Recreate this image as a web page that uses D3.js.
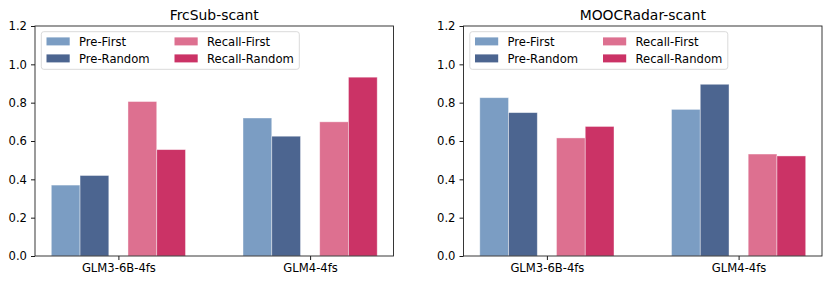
<!DOCTYPE html>
<html>
<head>
<meta charset="utf-8">
<script src="https://cdn.jsdelivr.net/npm/d3@7"></script>
<style>
  body { margin: 0; background: #fff; }
  svg { font-family: "DejaVu Sans", sans-serif; }
</style>
</head>
<body>
<div id="chart"></div>
<script>
const categories = ["GLM3-6B-4fs", "GLM4-4fs"];
const seriesNames = ["Pre-First", "Pre-Random", "Recall-First", "Recall-Random"];
const seriesColors = ["#7b9dc3", "#4c6590", "#dd7090", "#cb3366"];
const yTicks = [0.0, 0.2, 0.4, 0.6, 0.8, 1.0, 1.2];

// FrcSub-scant
const frcPreFirst = [0.37, 0.72];
const frcPreRandom = [0.42, 0.625];
const frcRecallFirst = [0.806, 0.70];
const frcRecallRandom = [0.555, 0.933];

// MOOCRadar-scant
const moocPreFirst = [0.826, 0.765];
const moocPreRandom = [0.748, 0.896];
const moocRecallFirst = [0.616, 0.532];
const moocRecallRandom = [0.676, 0.522];

const panels = [
  { title: "FrcSub-scant", left: 35, series: [frcPreFirst, frcPreRandom, frcRecallFirst, frcRecallRandom] },
  { title: "MOOCRadar-scant", left: 463.5, series: [moocPreFirst, moocPreRandom, moocRecallFirst, moocRecallRandom] }
];

const W = 830, H = 284;
const plotW = 358.5, plotTop = 26, plotBottom = 256;
const barW = 0.15;
const offsets = [-0.35, -0.2, 0.05, 0.2]; // left edge of each bar relative to group

const svg = d3.select("#chart").append("svg")
  .attr("width", W).attr("height", H);

panels.forEach(p => {
  const g = svg.append("g");
  const x = d3.scaleLinear().domain([-0.435, 1.435]).range([p.left, p.left + plotW]);
  const y = d3.scaleLinear().domain([0, 1.2]).range([plotBottom, plotTop]);

  // bars
  p.series.forEach((vals, si) => {
    g.selectAll(null)
      .data(vals)
      .enter().append("rect")
      .attr("x", (d, i) => x(i + offsets[si]))
      .attr("width", x(barW) - x(0))
      .attr("y", d => y(d))
      .attr("height", d => y(0) - y(d))
      .attr("fill", seriesColors[si])
      .attr("stroke", "#fff")
      .attr("stroke-opacity", 0.5)
      .attr("stroke-width", 0.8);
  });

  // axes
  const yAxis = d3.axisLeft(y).tickValues(yTicks).tickFormat(d3.format(".1f")).tickSize(4).tickPadding(4);
  const xAxis = d3.axisBottom(x).tickValues([0, 1]).tickFormat(i => categories[i]).tickSize(4).tickPadding(4);

  const ya = g.append("g").attr("transform", `translate(${p.left},0)`).call(yAxis);
  const xa = g.append("g").attr("transform", `translate(0,${plotBottom})`).call(xAxis);
  [ya, xa].forEach(a => {
    a.select(".domain").remove();
    a.selectAll("text").attr("font-size", "11.6px").attr("fill", "#000").attr("font-family", "DejaVu Sans");
    a.selectAll("line").attr("stroke", "#000").attr("stroke-width", 0.9);
  });

  // frame
  g.append("rect")
    .attr("x", p.left).attr("y", plotTop)
    .attr("width", plotW).attr("height", plotBottom - plotTop)
    .attr("fill", "none").attr("stroke", "#222").attr("stroke-width", 0.9);

  // title
  g.append("text")
    .attr("x", p.left + plotW / 2).attr("y", 19.5)
    .attr("text-anchor", "middle")
    .attr("font-size", "13.9px")
    .text(p.title);

  // legend
  const lx = p.left + 6.3, ly = 31.7;
  const leg = g.append("g");
  leg.append("rect")
    .attr("x", lx).attr("y", ly)
    .attr("width", 258).attr("height", 37.6)
    .attr("rx", 2.5)
    .attr("fill", "#fff").attr("fill-opacity", 0.8)
    .attr("stroke", "#d6d6d6").attr("stroke-width", 0.9);
  seriesNames.forEach((name, i) => {
    const col = Math.floor(i / 2), row = i % 2;
    const hx = lx + 5.2 + col * 128;
    const cy = ly + 9.7 + row * 17;
    leg.append("rect")
      .attr("x", hx).attr("y", cy - 4)
      .attr("width", 23.2).attr("height", 8)
      .attr("fill", seriesColors[i]);
    leg.append("text")
      .attr("x", hx + 32.5).attr("y", cy)
      .attr("dy", "0.36em")
      .attr("font-size", "11.6px")
      .text(name);
  });
});
</script>
</body>
</html>
